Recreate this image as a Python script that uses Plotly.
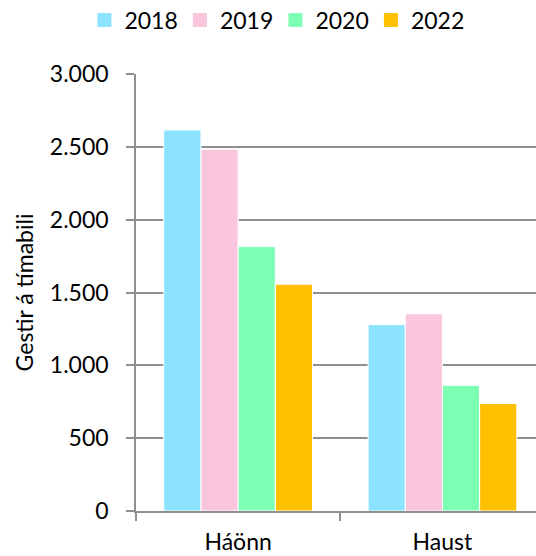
import plotly.graph_objects as go

categories = ["Háönn", "Haust"]
years = ["2018", "2019", "2020", "2022"]
v2018 = [2616, 1279]
v2019 = [2484, 1354]
v2020 = [1815, 863]
v2022 = [1557, 738]
colors = ["#8BE3FF", "#F9C6DE", "#7DFFB4", "#FFC000"]
y_ticks = [0, 500, 1000, 1500, 2000, 2500, 3000]

font = "Lato, 'Open Sans', sans-serif"
grid = "#8f8f8f"

fig = go.Figure()
for name, vals, c in zip(years, [v2018, v2019, v2020, v2022], colors):
    fig.add_trace(go.Bar(x=categories, y=vals, name=name, marker_color=c,
                         marker_line_color="white", marker_line_width=1,
                         showlegend=False, legendgroup=name))
# legend proxies (square swatches)
for name, c in zip(years, colors):
    fig.add_trace(go.Scatter(x=[None], y=[None], mode="markers", name=name,
                             marker=dict(symbol="square", size=14, color=c),
                             legendgroup=name, showlegend=True))

fig.update_layout(
    width=536, height=556,
    margin=dict(l=136, r=0, t=74, b=45, autoexpand=False),
    barmode="group", bargap=0.272, bargroupgap=0,
    plot_bgcolor="white", paper_bgcolor="white",
    separators=",.",
    font=dict(family=font, size=23, color="#000"),
    legend=dict(orientation="h", x=-0.129, xanchor="left", y=1.1236, yanchor="middle",
                font=dict(size=23), itemwidth=30, entrywidth=50.5,
                traceorder="normal", bgcolor="rgba(0,0,0,0)"),
    showlegend=True,
)
fig.update_yaxes(range=[0, 3000], tickvals=y_ticks, tickformat=",d",
                 showgrid=True, gridcolor=grid, gridwidth=1.5,
                 showline=True, linecolor=grid, linewidth=1.5,
                 ticks="outside", ticklen=8, tickcolor=grid, tickwidth=1.5,
                 ticklabelstandoff=13,
                 title=dict(text="Gestir á tímabili", font=dict(size=23), standoff=10),
                 zeroline=False)
fig.update_xaxes(range=[-0.5, -0.5 + 400 / 204.3],
                 showline=True, linecolor=grid, linewidth=1.5,
                 ticks="outside", tickson="boundaries", ticklen=8,
                 tickcolor=grid, tickwidth=1.5, showgrid=False,
                 ticklabelstandoff=10)
fig.write_html("out.html",
               config={"displayModeBar": False},
               post_script="document.body.style.margin='0';document.body.style.overflow='hidden';")
